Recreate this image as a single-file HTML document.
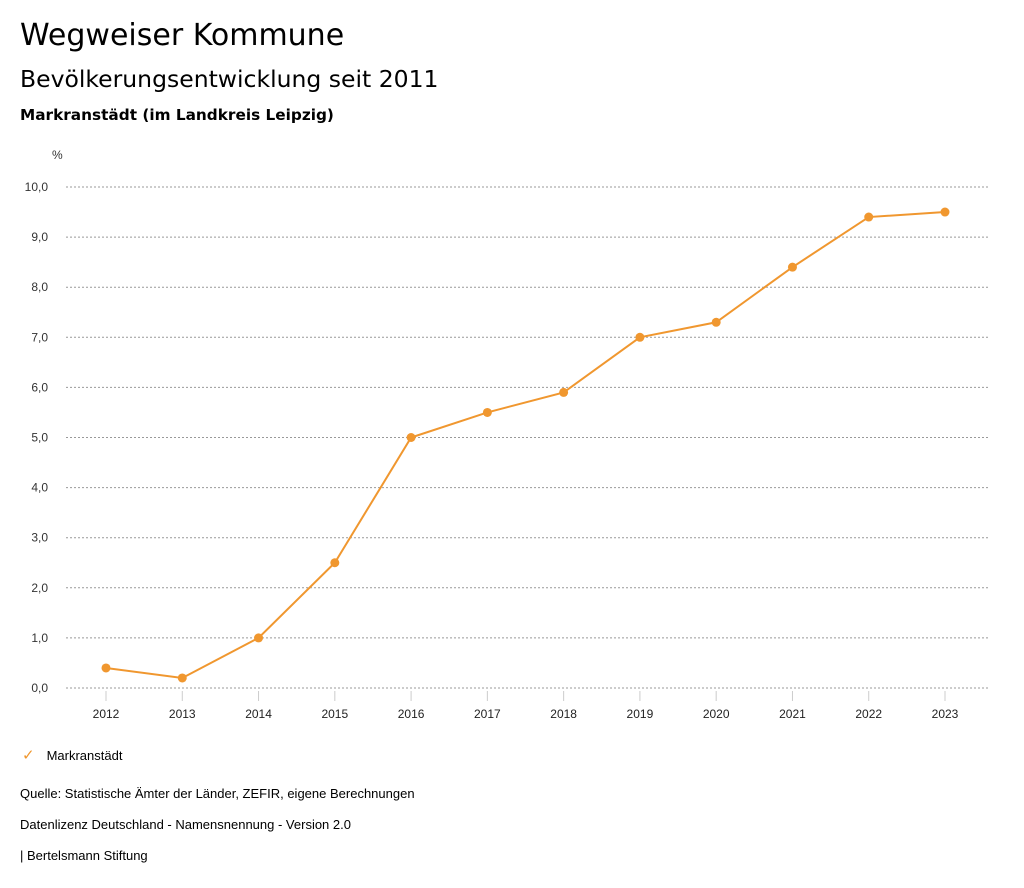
<!DOCTYPE html>
<html><head><meta charset="utf-8"><style>
body{margin:0;background:#fff;font-family:"Liberation Sans","DejaVu Sans",sans-serif;color:#000}
.t{position:absolute;white-space:nowrap}
.d{font-family:"DejaVu Sans",sans-serif}
</style></head><body>
<div style="position:relative;width:1024px;height:888px;overflow:hidden">
<div class="t d" style="left:20px;top:18px;font-size:30px">Wegweiser Kommune</div>
<div class="t d" style="left:20px;top:65px;font-size:23.5px">Bevölkerungsentwicklung seit 2011</div>
<div class="t d" style="left:20px;top:106px;font-size:15.3px;font-weight:bold">Markranstädt (im Landkreis Leipzig)</div>
<svg id="chart" width="1024" height="888" style="position:absolute;left:0;top:0"></svg>
<div class="t" style="left:48px;top:746px;font-size:13px"><span style="color:#f0972f;font-size:15px;margin-left:-26px;margin-right:12px">✓</span>Markranstädt</div>
<div class="t" style="left:20px;top:786px;font-size:13px">Quelle: Statistische Ämter der Länder, ZEFIR, eigene Berechnungen</div>
<div class="t" style="left:20px;top:817px;font-size:13px">Datenlizenz Deutschland - Namensnennung - Version 2.0</div>
<div class="t" style="left:20px;top:848px;font-size:13px">| Bertelsmann Stiftung</div>
</div>
<script>
const years=["2012","2013","2014","2015","2016","2017","2018","2019","2020","2021","2022","2023"];
const values=[0.4,0.2,1.0,2.5,5.0,5.5,5.9,7.0,7.3,8.4,9.4,9.5];
const yTicks=[0,1,2,3,4,5,6,7,8,9,10];
const NS="http://www.w3.org/2000/svg";
const svg=document.getElementById('chart');
const x=i=>106+i*(945-106)/(years.length-1);
const y=v=>688-v*50.1;
function mk(t,a){const e=document.createElementNS(NS,t);for(const k in a)e.setAttribute(k,a[k]);svg.appendChild(e);return e;}
let u=mk('text',{x:52,y:159,'font-size':12,fill:'#333'});u.textContent='%';


yTicks.forEach(v=>{
 const g=mk('line',{x1:66,x2:990,y1:y(v),y2:y(v),stroke:'#999','stroke-dasharray':'2,2','stroke-width':1});
 
 
 const t=mk('text',{x:48,y:y(v)+4,'font-size':12,fill:'#333','text-anchor':'end'});
 t.textContent=v.toFixed(1).replace('.',',');
 
 
});
years.forEach((yr,i)=>{
 const l=mk('line',{x1:x(i),x2:x(i),y1:691,y2:701,stroke:'#ccc'});
 
 
 const t=mk('text',{x:x(i),y:718,'font-size':12,fill:'#222','text-anchor':'middle'});
 t.textContent=yr;
 
 
});
const p=mk('polyline',{points:values.map((v,i)=>x(i)+','+y(v)).join(' '),fill:'none',stroke:'#f0972f','stroke-width':2});


values.forEach((v,i)=>{
 const c=mk('circle',{cx:x(i),cy:y(v),r:4.5,fill:'#f0972f'});
 
 
});
</script>
</body></html>
